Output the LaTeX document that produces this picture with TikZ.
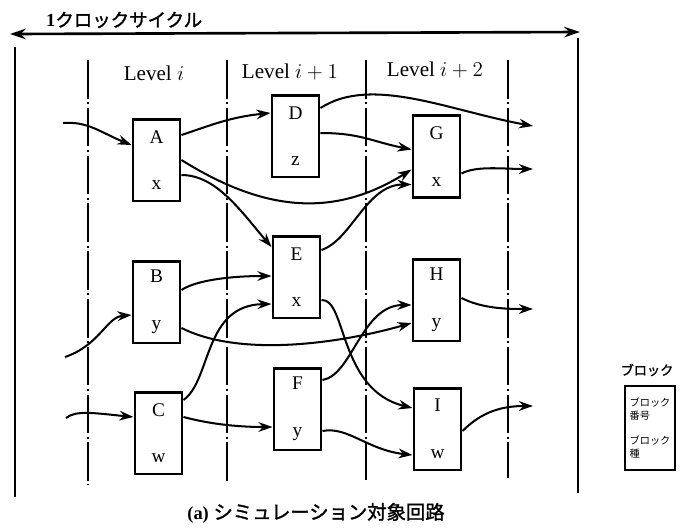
\documentclass[tikz,border=0pt]{standalone}
\usepackage{fontspec}
\setmainfont{Liberation Serif}
\newfontfamily\jp{Noto Sans CJK JP}
\newfontfamily\jpb{Noto Sans CJK JP}[FakeBold=1.5]
\usetikzlibrary{arrows.meta,calc}

\begin{document}
\begin{tikzpicture}[
    x=0.02cm, y=-0.02cm,
    box/.style={rectangle, draw=black, line width=1.7pt, minimum width=0.94cm, minimum height=1.64cm, align=center, inner sep=0pt, font=\fontsize{11}{13}\selectfont},
    arrow/.style={-{Stealth[length=8pt,width=5.5pt]}, line width=1.15pt},
    level/.style={font=\fontsize{12}{14}\selectfont},
    bound/.style={line width=1.5pt},
    sep/.style={line width=1.2pt, dash pattern=on 22pt off 2pt on 1.2pt off 2pt}
]
\useasboundingbox (0,0) rectangle (681,529);

% clock cycle span
\coordinate (cycL) at (10,34);
\coordinate (cycR) at (580,32);
\draw[{Stealth[length=9pt,width=6pt]}-{Stealth[length=9pt,width=6pt]}, line width=1.5pt] (cycL) -- (cycR);
\node[anchor=west, font=\fontsize{10.5}{12}\selectfont] (cyc) at (40,20) {\textbf{1}{\jpb クロックサイクル}};

\draw[bound] (15,47) -- (15,497);
\draw[bound] (578,38) -- (578,493);
\foreach \x/\b in {88/485,227/482,366/480,508/478}
    \draw[sep] (\x,60) -- (\x,\b);

\node[level] (lv0) at (154,73) {Level $i$};
\node[level] (lv1) at (290,72) {Level $i+1$};
\node[level] (lv2) at (435,70) {Level $i+2$};

% blocks
\node[box] (A) at (156.5,160) {A\\[13.5pt]x};
\node[box] (B) at (156.5,302) {B\\[13.5pt]y};
\node[box] (C) at (158.5,433) {C\\[13.5pt]w};
\node[box] (D) at (295.5,136) {D\\[13.5pt]z};
\node[box] (E) at (296.5,277) {E\\[13.5pt]x};
\node[box] (F) at (297.5,409) {F\\[13.5pt]y};
\node[box] (G) at (436.5,156.5) {G\\[13.5pt]x};
\node[box] (H) at (436.5,300) {H\\[13.5pt]y};
\node[box] (I) at (437.5,429) {I\\[13.5pt]w};

\coordinate (in1) at (63,123);
\coordinate (in2) at (65,357);
\coordinate (in3) at (66,418);
\coordinate (out1) at (533,126);
\coordinate (out2) at (533,169);
\coordinate (out3) at (533,309);
\coordinate (out4) at (533,406);

% signals
\draw[arrow] (in1) .. controls +(25,-2) and +(-30,-12) .. ($(A.west)+(0,-15)$);
\draw[arrow] ($(A.east)+(0,-25)$) .. controls +(30,-10) and +(-40,4) .. ($(D.west)+(0,-23)$);
\draw[arrow] (A.east) .. controls +(80,50) and +(-80,50) .. ($(G.west)+(0,13)$);
\draw[arrow] ($(A.east)+(0,15)$) .. controls +(35,0) and +(-30,-35) .. ($(E.west)+(0,-30)$);
\draw[arrow] ($(D.east)+(0,-28)$) .. controls +(51,-33) and +(-83,-15) .. (out1);
\draw[arrow] ($(D.east)+(0,-3)$) .. controls +(40,0) and +(-40,-8) .. ($(G.west)+(0,-7)$);
\draw[arrow] ($(E.east)+(0,-27)$) .. controls +(30,-10) and +(-45,0) .. ($(G.west)+(0,28)$);
\draw[arrow] ($(G.east)+(0,17)$) .. controls +(15,-8) and +(-30,0) .. (out2);
\draw[arrow] (in2) .. controls +(35,-12) and +(-25,2) .. ($(B.west)+(0,13)$);
\draw[arrow] ($(B.east)+(0,-12)$) .. controls +(15,-10) and +(-40,0) .. ($(E.west)+(0,-1)$);
\draw[arrow] ($(B.east)+(0,26)$) .. controls +(60,30) and +(-70,20) .. ($(H.west)+(0,23)$);
\draw[arrow] ($(C.east)+(0,-33)$) .. controls +(28,-20) and +(-68,1) .. ($(E.west)+(0,27)$);
\draw[arrow] ($(C.east)+(0,-16)$) .. controls +(30,8) and +(-30,0) .. ($(F.west)+(0,18)$);
\draw[arrow] (in3) .. controls +(10,-8) and +(-40,-4) .. ($(C.west)+(0,-16)$);
\draw[arrow] ($(E.east)+(0,23)$) .. controls +(25,-2) and +(-74,-18) .. ($(I.west)+(0,-21)$);
\draw[arrow] ($(F.east)+(0,-29)$) .. controls +(30,-5) and +(-50,0) .. ($(H.west)+(0,5)$);
\draw[arrow] ($(F.east)+(0,22)$) .. controls +(25,-5) and +(-45,-5) .. ($(I.west)+(0,26)$);
\draw[arrow] ($(H.east)+(0,-2)$) .. controls +(20,10) and +(-30,0) .. (out3);
\draw[arrow] ($(I.east)+(0,2)$) .. controls +(20,-20) and +(-30,0) .. (out4);

% legend
\node[font=\jpb\fontsize{7.5}{9}\selectfont] (lgname) at (647,370) {ブロック};
\node[draw, line width=1.5pt, minimum width=1cm, minimum height=1.68cm, align=left, inner sep=2pt, font=\jp\fontsize{5.8}{7.4}\selectfont] (lgbox) at (650,428) {ブロック\\番号\\[7pt]ブロック\\種};

\node[font=\fontsize{10.5}{12}\selectfont] (caption) at (316,513) {\textbf{(a)}\ {\jpb\fontsize{11}{12}\selectfont シミュレーション対象回路}};
\end{tikzpicture}
\end{document}
